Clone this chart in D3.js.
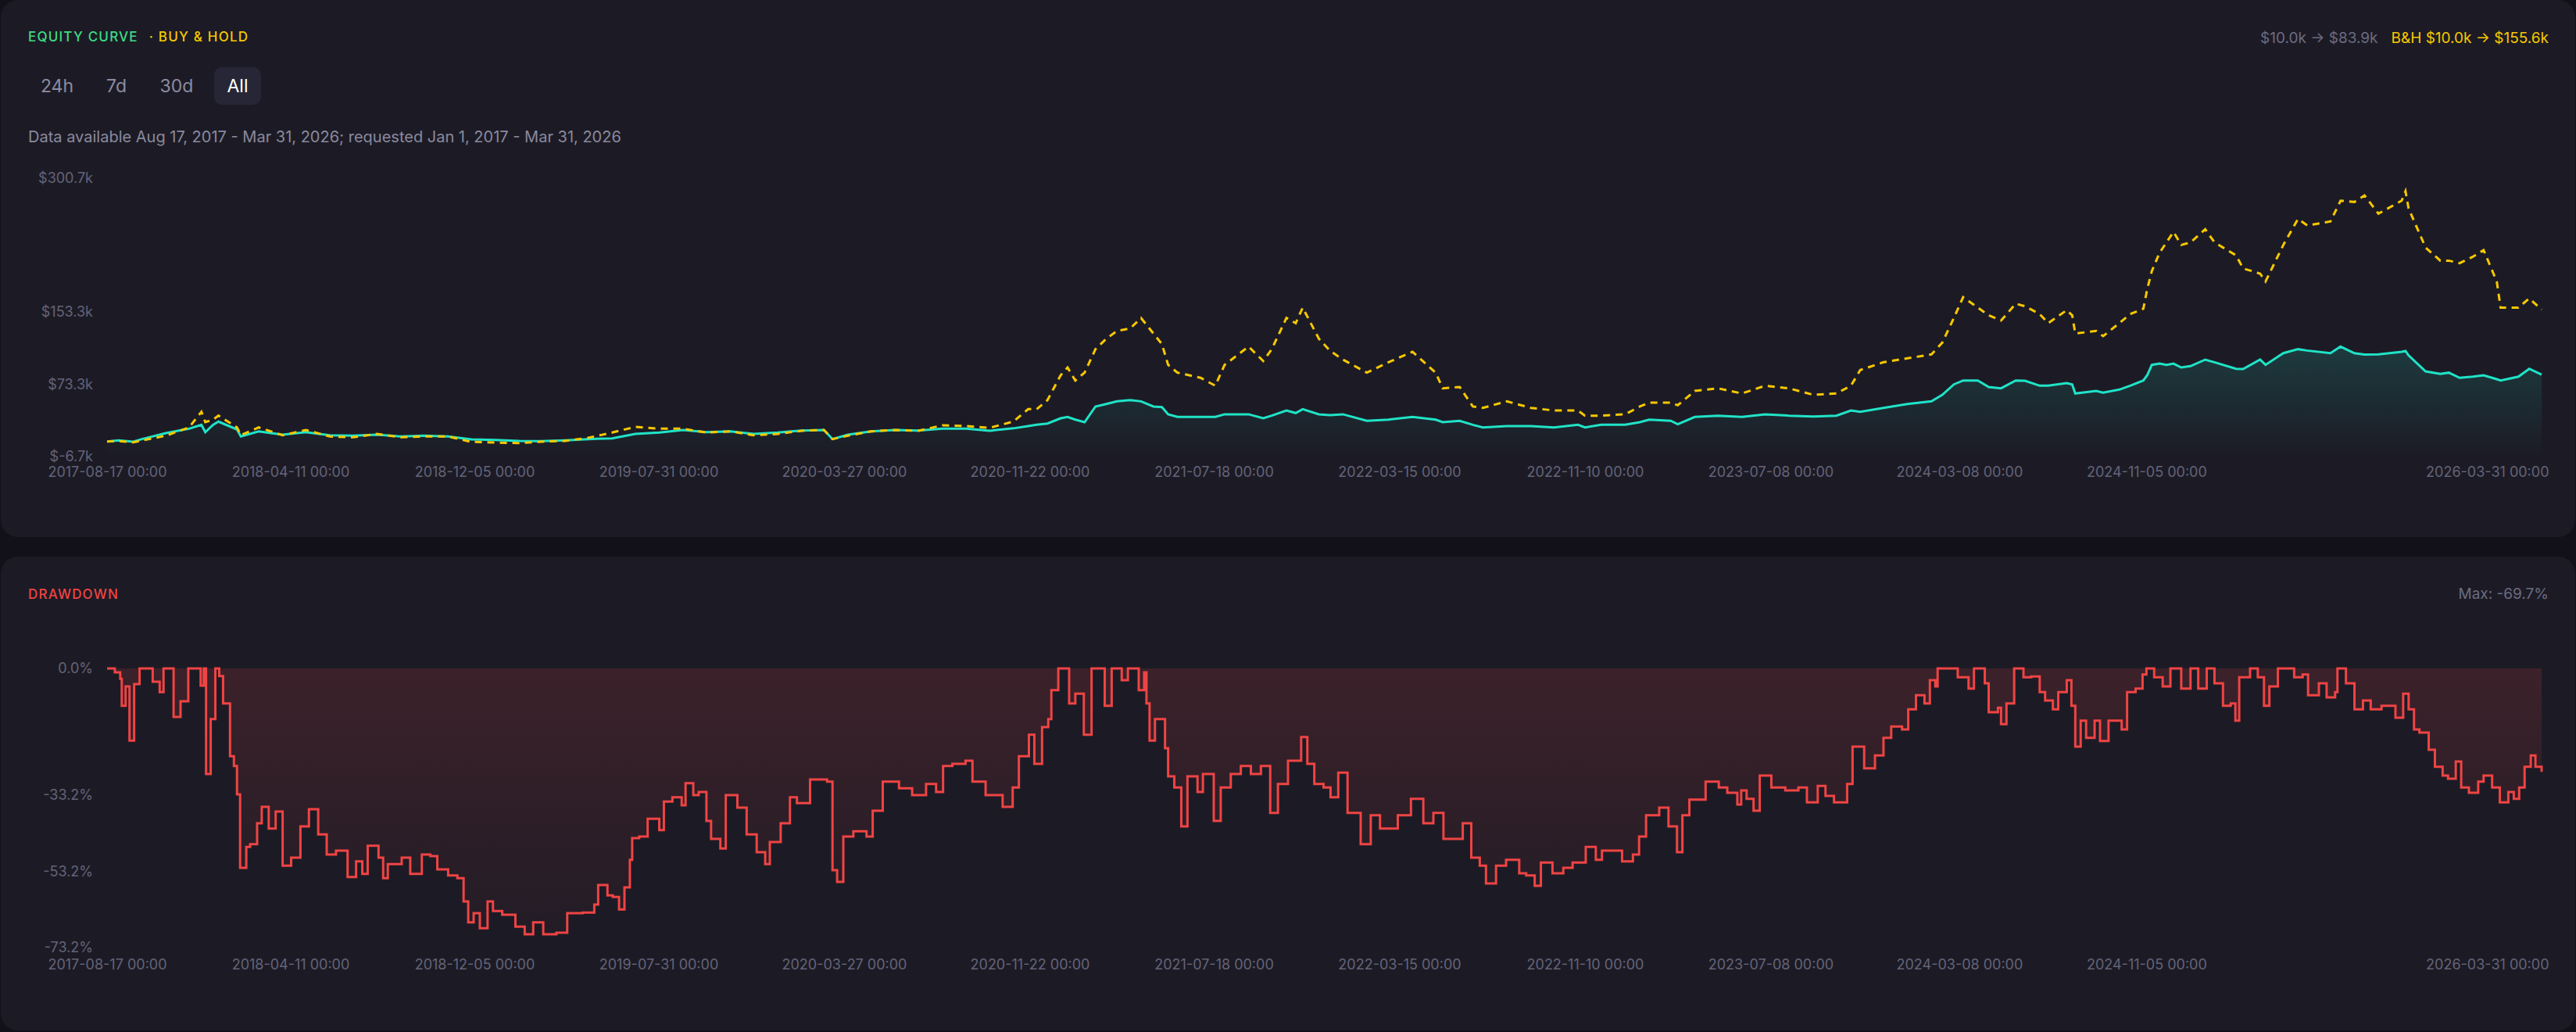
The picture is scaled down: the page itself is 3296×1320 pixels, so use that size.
<!DOCTYPE html>
<html>
<head>
<meta charset="utf-8">
<script src="https://cdn.jsdelivr.net/npm/d3@7"></script>
<style>
  body { margin: 0; background: #12111a; }
  svg text { font-family: Inter, "Noto Sans", sans-serif; }
</style>
</head>
<body>
<div id="chart"></div>
<script>
// EQUITY DATA (values in $k)
const equityDates = [
  "2017-08-17","2017-09-01","2017-09-20","2017-10-01","2017-11-01","2017-12-01","2017-12-17","2017-12-22",
  "2018-01-01","2018-01-08","2018-02-01","2018-02-06","2018-03-01","2018-04-01","2018-05-01","2018-06-01","2018-07-01","2018-08-01","2018-09-01","2018-10-01","2018-11-01","2018-12-01",
  "2019-01-01","2019-02-01","2019-03-01","2019-04-01","2019-05-01","2019-06-01","2019-07-01","2019-08-01","2019-09-01","2019-10-01","2019-11-01","2019-12-01",
  "2020-01-01","2020-02-01","2020-03-01","2020-03-12","2020-04-01","2020-05-01","2020-06-01","2020-07-01","2020-08-01","2020-09-01","2020-10-01","2020-11-01","2020-11-20","2020-12-01","2020-12-15",
  "2021-01-01","2021-01-10","2021-01-20","2021-02-01","2021-02-15","2021-03-01","2021-03-15","2021-04-01","2021-04-15","2021-05-01","2021-05-12","2021-05-20","2021-06-01","2021-07-01","2021-07-20","2021-08-01","2021-09-01","2021-09-20","2021-10-01","2021-10-20","2021-11-01","2021-11-10","2021-12-01","2021-12-15",
  "2022-01-01","2022-02-01","2022-03-01","2022-04-01","2022-05-01","2022-05-10","2022-06-01","2022-06-18","2022-07-01","2022-08-01","2022-09-01","2022-10-01","2022-11-01","2022-11-10","2022-12-01",
  "2023-01-01","2023-01-20","2023-02-01","2023-03-01","2023-03-10","2023-04-01","2023-05-01","2023-06-01","2023-07-01","2023-08-01","2023-09-01","2023-10-01","2023-10-20","2023-11-01","2023-12-01",
  "2024-01-01","2024-02-01","2024-02-15","2024-03-01","2024-03-13","2024-04-01","2024-04-15","2024-05-01","2024-05-20","2024-06-01","2024-06-20","2024-07-01","2024-07-25","2024-08-01","2024-08-05","2024-09-01","2024-09-10","2024-10-01","2024-10-15","2024-11-01","2024-11-06","2024-11-12","2024-11-22","2024-12-01","2024-12-10","2024-12-20",
  "2025-01-01","2025-01-20","2025-02-01","2025-03-01","2025-03-10","2025-04-01","2025-04-08","2025-05-01","2025-05-20","2025-06-01","2025-07-01","2025-07-14","2025-08-01","2025-08-14","2025-09-01","2025-10-01","2025-10-06","2025-10-10","2025-11-01","2025-11-20","2025-12-01","2025-12-15",
  "2026-01-01","2026-01-15","2026-02-01","2026-02-06","2026-03-01","2026-03-15","2026-03-31"
];
const strategyValues = [
  10.0,11.2,9.8,12.6,19.2,24.1,28.4,20.3,
  28.4,31.9,23.3,15.5,21.2,17.5,20.3,16.9,16.3,17.5,15.5,16.3,15.5,12.2,
  11.7,10.6,10.3,11.2,12.6,13.4,18.3,19.8,22.7,20.3,21.2,18.3,
  19.8,22.1,22.7,12.6,17.5,21.2,22.7,22.1,24.1,24.1,21.8,24.5,27.0,28.4,29.8,
  35.6,37.1,34.1,31.3,48.6,51.4,54.3,55.7,54.3,48.6,48.0,40.0,37.1,37.1,37.1,40.0,40.0,35.6,38.5,44.2,41.4,45.7,40.0,39.0,
  40.0,32.8,34.1,37.1,34.1,31.3,32.8,28.4,25.5,27.0,27.0,25.5,28.4,25.5,28.4,
  28.4,31.3,34.1,32.8,29.0,37.1,38.5,37.1,40.0,38.5,37.6,38.5,44.2,42.8,47.1,
  51.4,54.3,61.5,73.0,77.3,77.3,70.2,68.7,77.3,77.0,71.6,71.6,74.5,73.0,63.0,65.8,64.0,67.3,71.6,77.3,83.1,94.6,96.1,94.6,96.0,91.7,
  93.2,100.4,97.5,90.3,90.0,100.4,94.6,107.5,111.9,110.4,107.5,114.8,107.5,106.0,106.2,109.0,110.0,105.0,87.4,84.6,86.0,80.3,
  81.6,83.1,78.8,77.3,81.6,90.3,83.9
];
const buyHoldValues = [
  10.0,10.5,9.0,11.0,16.4,25.5,42.8,31.3,
  34.1,38.5,25.5,16.9,25.5,16.9,22.7,15.5,14.6,18.3,14.6,15.5,15.5,9.5,
  8.8,8.2,9.7,10.6,14.0,19.8,26.1,24.1,24.1,19.8,21.2,16.9,
  18.3,21.8,22.7,12.6,16.4,21.2,22.7,21.8,27.8,27.0,25.0,32.0,45.7,45.7,55.7,
  83.1,91.7,77.3,86.0,111.9,123.4,132.1,134.9,146.4,129.2,117.6,94.6,86.0,80.3,71.6,94.6,114.8,98.9,111.9,146.4,140.7,157.8,123.4,110.4,
  100.4,86.0,97.5,109.0,86.0,68.7,70.2,48.6,47.1,54.3,47.1,44.2,44.2,38.5,38.5,
  40.0,48.6,52.9,52.9,50.0,65.8,68.7,63.0,71.6,68.7,61.5,63.0,71.6,88.9,97.5,
  101.8,106.2,119.1,146.4,169.4,157.8,149.3,143.5,162.1,159.4,150.7,140.7,155.0,149.3,129.2,132.1,126.3,140.7,150.7,156.5,178.1,198.2,218.4,229.9,241.4,227.0,
  229.9,244.3,229.9,215.5,201.1,195.4,186.7,227.0,255.8,248.6,253.0,275.9,274.5,281.7,261.6,275.9,286.4,267.3,224.2,209.7,209.7,206.9,
  214.0,221.3,186.7,157.8,157.8,168.0,155.6
];

// DRAWDOWN DATA (%)
const drawdownDates = [
  "2017-08-17","2017-08-27","2017-09-03","2017-09-05","2017-09-10","2017-09-15","2017-09-21","2017-09-28","2017-10-15","2017-10-24","2017-10-29","2017-11-11","2017-11-20","2017-11-30","2017-12-16","2017-12-20","2017-12-23","2017-12-29",
  "2018-01-04","2018-01-09","2018-01-14","2018-01-23","2018-01-28","2018-02-01","2018-02-05","2018-02-13","2018-02-18","2018-02-27","2018-03-05","2018-03-14","2018-03-23","2018-04-01","2018-04-12","2018-04-24","2018-05-05","2018-05-17","2018-05-28","2018-06-09","2018-06-24","2018-07-05","2018-07-13","2018-07-20","2018-08-03","2018-08-09","2018-08-15","2018-09-02","2018-09-13","2018-09-28","2018-10-09","2018-10-18","2018-11-01","2018-11-13","2018-11-21","2018-11-27","2018-12-04","2018-12-12","2018-12-22","2018-12-29",
  "2019-01-10","2019-01-27","2019-02-08","2019-02-19","2019-03-04","2019-03-21","2019-04-01","2019-04-04","2019-04-24","2019-05-09","2019-05-14","2019-05-26","2019-06-02","2019-06-10","2019-06-17","2019-06-24","2019-06-27","2019-07-06","2019-07-17","2019-08-01","2019-08-07","2019-08-18","2019-08-30","2019-09-04","2019-09-14","2019-09-21","2019-10-01","2019-10-07","2019-10-19","2019-10-26","2019-11-10","2019-11-22","2019-12-05","2019-12-16","2019-12-22",
  "2020-01-05","2020-01-17","2020-01-26","2020-02-12","2020-03-05","2020-03-12","2020-03-18","2020-03-26","2020-04-08","2020-04-25","2020-05-03","2020-05-16","2020-06-06","2020-06-23","2020-07-11","2020-07-24","2020-08-02","2020-08-14","2020-08-31","2020-09-09","2020-09-26","2020-10-18","2020-10-31","2020-11-08","2020-11-21","2020-11-28","2020-12-08","2020-12-16","2020-12-20","2020-12-29",
  "2021-01-12","2021-01-20","2021-01-31","2021-02-10","2021-02-27","2021-03-08","2021-03-21","2021-03-29","2021-04-12","2021-04-19","2021-04-22","2021-04-26","2021-05-03","2021-05-16","2021-05-20","2021-05-28","2021-06-06","2021-06-14","2021-06-27","2021-07-04","2021-07-18","2021-07-27","2021-08-09","2021-08-22","2021-09-04","2021-09-17","2021-09-29","2021-10-09","2021-10-22","2021-11-08","2021-11-16","2021-11-25","2021-12-07","2021-12-16","2021-12-26",
  "2022-01-07","2022-01-24","2022-02-06","2022-02-18","2022-03-13","2022-03-30","2022-04-15","2022-04-28","2022-05-11","2022-05-24","2022-06-05","2022-06-16","2022-06-27","2022-07-05","2022-07-18","2022-07-31","2022-08-17","2022-08-26","2022-09-06","2022-09-14","2022-09-29","2022-10-13","2022-10-25","2022-11-11","2022-11-24","2022-12-02","2022-12-28",
  "2023-01-11","2023-01-19","2023-01-28","2023-02-14","2023-02-26","2023-03-09","2023-03-16","2023-03-25","2023-04-15","2023-05-02","2023-05-13","2023-05-26","2023-05-31","2023-06-07","2023-06-16","2023-06-24","2023-07-09","2023-07-27","2023-08-13","2023-08-24","2023-09-07","2023-09-17","2023-09-28","2023-10-15","2023-10-22","2023-11-06","2023-11-20","2023-12-01","2023-12-11","2023-12-25",
  "2024-01-02","2024-01-12","2024-01-23","2024-01-30","2024-02-06","2024-02-09","2024-02-27","2024-03-06","2024-03-20","2024-03-27","2024-04-10","2024-04-15","2024-04-27","2024-05-01","2024-05-08","2024-05-18","2024-05-30","2024-06-09","2024-06-20","2024-06-27","2024-07-07","2024-07-14","2024-07-25","2024-07-31","2024-08-05","2024-08-12","2024-08-19","2024-08-30","2024-09-06","2024-09-17","2024-09-27","2024-10-04","2024-10-11","2024-10-22","2024-10-31","2024-11-05","2024-11-15","2024-11-26","2024-12-06","2024-12-20",
  "2025-01-01","2025-01-11","2025-01-22","2025-02-01","2025-02-12","2025-02-22","2025-02-28","2025-03-05","2025-03-19","2025-03-29","2025-04-06","2025-04-13","2025-04-24","2025-05-05","2025-05-15","2025-05-26","2025-06-02","2025-06-16","2025-06-26","2025-07-07","2025-07-10","2025-07-21","2025-08-01","2025-08-12","2025-08-22","2025-09-05","2025-09-23","2025-10-03","2025-10-10","2025-10-17","2025-10-24","2025-11-05","2025-11-13","2025-11-23","2025-11-30","2025-12-10","2025-12-17","2025-12-27",
  "2026-01-08","2026-01-15","2026-01-26","2026-02-05","2026-02-16","2026-02-23","2026-03-02","2026-03-09","2026-03-17","2026-03-23","2026-03-31"
];
const drawdownValues = [
  0,-1,-2.7,-9.8,-4.7,-18.9,-4.1,0,-3.5,-6.2,0,-12.7,-8.6,0,-4.5,0,-27.7,-13.3,
  0,-2,-9.2,-23,-25.6,-33,-52.3,-46.8,-46.1,-40.6,-36.3,-42,-37.5,-51.7,-49.6,-41.4,-36.9,-43.5,-48.8,-47.8,-54.7,-50.6,-53.9,-46.5,-49.6,-55,-51.3,-49.6,-53.9,-48.8,-49.2,-52.7,-54.3,-55,-61.1,-66.6,-64.2,-68.1,-61.1,-63.6,
  -64.6,-67.7,-69.7,-66.6,-69.7,-69.3,-69.3,-64.2,-64,-61.9,-56.8,-59.5,-59.9,-63.2,-57.4,-50.2,-44.5,-44.1,-39.4,-42.4,-34.9,-33.8,-35.9,-30.1,-33.2,-32.4,-40,-44.7,-47.2,-33.2,-36.5,-43.5,-48.2,-51.3,-45.5,
  -40.6,-33.8,-35.3,-29.1,-29.7,-52.9,-56,-44.1,-42.7,-44.1,-37.3,-29.7,-31.4,-33.2,-30.3,-32.4,-25.6,-25,-24.2,-29.7,-33.2,-36.3,-31.2,-23,-17.4,-25,-15.4,-13.3,-5.7,0,
  -9.2,-6.6,-17.4,0,-9.8,0,-3.1,0,-5.7,-1,-9.2,-18.9,-13.3,-20.9,-28.3,-31.2,-41.4,-28.3,-32.4,-27.7,-40,-31.2,-27.7,-25.6,-27.7,-25.6,-37.9,-30.3,-24.2,-18,-25,-30.3,-31.2,-33.8,-27.3,
  -37.9,-46.1,-38.5,-42,-38.5,-34.2,-40.6,-37.9,-44.7,-44.7,-40.6,-49.6,-51.7,-56.4,-51.7,-50.2,-53.7,-54.3,-57,-50.9,-53.7,-52.3,-50.9,-46.8,-50.2,-47.8,-50.6,
  -48.8,-44.1,-38.5,-36.5,-41.4,-48.2,-38.5,-34.4,-29.7,-31.2,-32.6,-35.7,-32,-34.2,-37.3,-28.1,-31.2,-32,-31.2,-35.1,-30.8,-33.4,-35.1,-30.3,-20.5,-26.2,-22.8,-18.2,-15.2,-16,
  -10.7,-7,-9.2,-3.1,-4.7,0,0,-2.3,-5.3,0,-3.9,-11.5,-10.3,-14.6,-9.2,0,-2.3,-2.1,-6.2,-8.4,-10.7,-6.2,-3.1,-9.8,-20.5,-13.7,-18.2,-13.7,-19,-13.7,-13.7,-16,-6.2,-5.3,-1.6,0,-2.3,-4.7,0,-5.3,
  0,-5.3,0,-3.9,-9.8,-9.2,-13.7,-2.3,0,-2.3,-9.8,-4.7,0,0,-2.3,-1.6,-7,-3.9,-7.6,-6.2,0,-3.9,-10.7,-8.4,-10.7,-9.8,-12.9,-6.6,-10.7,-16,-16.8,-21.3,-25.8,-28.1,-28.9,-24.4,-31.2,-32.6,
  -29.7,-28.1,-31.2,-35.1,-32.4,-34.2,-31.2,-25.8,-22.8,-25.8,-27.1
];

// AXIS TICKS
const xTickDates = ["2017-08-17","2018-04-11","2018-12-05","2019-07-31","2020-03-27","2020-11-22","2021-07-18","2022-03-15","2022-11-10","2023-07-08","2024-03-08","2024-11-05","2026-03-31"];
const equityTicks = [-6.7, 73.3, 153.3, 300.7];
const drawdownTicks = [0, -33.2, -53.2, -73.2];

// PARSE
const parse = d3.utcParse('%Y-%m-%d');
const equity = equityDates.map((d, i) => ({date: parse(d), strategy: strategyValues[i], hold: buyHoldValues[i]}));
const drawdown = drawdownDates.map((d, i) => ({date: parse(d), dd: drawdownValues[i]}));

// DIMENSIONS
const width = 3296, height = 1320;
const left = 137, right = 3252;

const svg = d3.select('#chart').append('svg')
  .attr('width', width)
  .attr('height', height)
  .style('display', 'block');

const defs = svg.append('defs');

const tealGrad = defs.append('linearGradient').attr('id', 'tealFill').attr('x1', 0).attr('x2', 0).attr('y1', 0).attr('y2', 1);
tealGrad.append('stop').attr('offset', '0%').attr('stop-color', '#20e3c7').attr('stop-opacity', 0.16);
tealGrad.append('stop').attr('offset', '100%').attr('stop-color', '#20e3c7').attr('stop-opacity', 0);

const redGrad = defs.append('linearGradient').attr('id', 'redFill').attr('x1', 0).attr('x2', 0).attr('y1', 0).attr('y2', 1);
redGrad.append('stop').attr('offset', '0%').attr('stop-color', '#ef4444').attr('stop-opacity', 0.15);
redGrad.append('stop').attr('offset', '100%').attr('stop-color', '#ef4444').attr('stop-opacity', 0.03);

// PANELS
svg.append('rect').attr('x', 1).attr('y', 0).attr('width', width - 2).attr('height', 687).attr('rx', 22).attr('fill', '#1c1b25');
svg.append('rect').attr('x', 1).attr('y', 712).attr('width', width - 2).attr('height', 606).attr('rx', 22).attr('fill', '#1c1b25');

// SCALES
const x = d3.scaleUtc().domain([parse('2017-08-17'), parse('2026-03-31')]).range([left, right]);
const yEq = d3.scaleLinear().domain([-6.7, 300.7]).range([584, 228]);
const yDd = d3.scaleLinear().domain([-73.2, 0]).range([1212, 855]);

// HEADER TEXT
const title = svg.append('text').attr('x', 36).attr('y', 47).attr('dy', '0.35em')
  .attr('font-size', 17).attr('font-weight', 500).attr('letter-spacing', 1.2);
title.append('tspan').attr('fill', '#3fdc85').text('EQUITY CURVE');
title.append('tspan').attr('fill', '#f7c800').attr('dx', 14).text('· BUY & HOLD');

const summary = svg.append('text').attr('x', 3261).attr('y', 48).attr('dy', '0.35em')
  .attr('text-anchor', 'end').attr('font-size', 19);
summary.append('tspan').attr('fill', '#6c6b82').text('$10.0k → $83.9k');
summary.append('tspan').attr('fill', '#f7c800').attr('dx', 17).text('B&H $10.0k → $155.6k');

// RANGE BUTTONS
svg.append('rect').attr('x', 274).attr('y', 86).attr('width', 60).attr('height', 48).attr('rx', 10).attr('fill', '#272636');
const buttons = [['24h', 73], ['7d', 149], ['30d', 226], ['All', 304]];
buttons.forEach(b => {
  svg.append('text').attr('x', b[1]).attr('y', 110).attr('dy', '0.35em')
    .attr('text-anchor', 'middle').attr('font-size', 23)
    .attr('fill', b[0] === 'All' ? '#ffffff' : '#8d8ba3')
    .text(b[0]);
});

svg.append('text').attr('x', 36).attr('y', 175).attr('dy', '0.35em')
  .attr('font-size', 20).attr('fill', '#8a899e')
  .text('Data available Aug 17, 2017 - Mar 31, 2026; requested Jan 1, 2017 - Mar 31, 2026');

// EQUITY CHART
svg.append('path').datum(equity)
  .attr('fill', 'url(#tealFill)')
  .attr('d', d3.area().x(d => x(d.date)).y0(yEq(-6.7)).y1(d => yEq(d.strategy)));

svg.append('path').datum(equity)
  .attr('fill', 'none').attr('stroke', '#20e3c7').attr('stroke-width', 3)
  .attr('d', d3.line().x(d => x(d.date)).y(d => yEq(d.strategy)));

svg.append('path').datum(equity)
  .attr('fill', 'none').attr('stroke', '#f7c800').attr('stroke-width', 3)
  .attr('stroke-dasharray', '9 7')
  .attr('d', d3.line().x(d => x(d.date)).y(d => yEq(d.hold)));

// AXES
const fmtDate = d => d3.utcFormat('%Y-%m-%d')(d) + ' 00:00';

function styleAxis(g) {
  g.select('.domain').remove();
  g.selectAll('text').attr('fill', '#646379').attr('font-size', 18).attr('font-family', 'Inter, sans-serif');
}

function xAxis(yPos) {
  const g = svg.append('g').attr('transform', `translate(0,${yPos})`)
    .call(d3.axisBottom(x).tickValues(xTickDates.map(parse)).tickFormat(fmtDate).tickSize(0).tickPadding(0))
    .call(styleAxis);
  // LAST LABEL SITS FLUSH RIGHT
  g.selectAll('.tick').filter((d, i, n) => i === n.length - 1)
    .select('text').attr('text-anchor', 'end').attr('x', 9);
}

svg.append('g').attr('transform', 'translate(119,0)')
  .call(d3.axisLeft(yEq).tickValues(equityTicks).tickFormat(v => '$' + v.toFixed(1) + 'k').tickSize(0).tickPadding(0))
  .call(styleAxis);
xAxis(597);

// DRAWDOWN PANEL
svg.append('text').attr('x', 36).attr('y', 760).attr('dy', '0.35em')
  .attr('font-size', 17).attr('font-weight', 500).attr('letter-spacing', 1.2)
  .attr('fill', '#ef4444').text('DRAWDOWN');

svg.append('text').attr('x', 3261).attr('y', 759).attr('dy', '0.35em')
  .attr('text-anchor', 'end').attr('font-size', 19).attr('fill', '#6c6b82')
  .text('Max: ' + d3.min(drawdownValues).toFixed(1) + '%');

svg.append('path').datum(drawdown)
  .attr('fill', 'url(#redFill)')
  .attr('d', d3.area().curve(d3.curveStepAfter).x(d => x(d.date)).y0(yDd(0)).y1(d => yDd(d.dd)));

svg.append('path').datum(drawdown)
  .attr('fill', 'none').attr('stroke', '#ef4444').attr('stroke-width', 3)
  .attr('d', d3.line().curve(d3.curveStepAfter).x(d => x(d.date)).y(d => yDd(d.dd)));

svg.append('g').attr('transform', 'translate(119,0)')
  .call(d3.axisLeft(yDd).tickValues(drawdownTicks).tickFormat(v => v.toFixed(1) + '%').tickSize(0).tickPadding(0))
  .call(styleAxis);
xAxis(1227);
</script>
</body>
</html>
